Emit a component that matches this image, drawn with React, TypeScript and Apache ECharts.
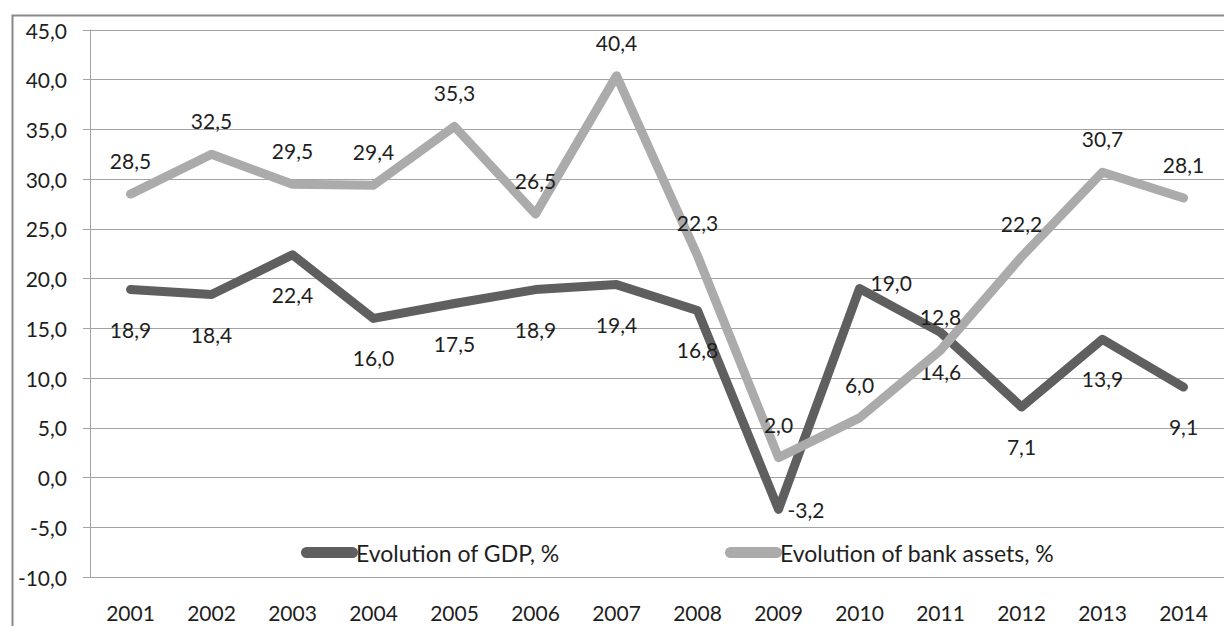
import React, { useEffect, useRef } from "react";
import * as echarts from "echarts";

const years = ["2001", "2002", "2003", "2004", "2005", "2006", "2007", "2008", "2009", "2010", "2011", "2012", "2013", "2014"];
const gdpValues = [18.9, 18.4, 22.4, 16.0, 17.5, 18.9, 19.4, 16.8, -3.2, 19.0, 14.6, 7.1, 13.9, 9.1];
const bankValues = [28.5, 32.5, 29.5, 29.4, 35.3, 26.5, 40.4, 22.3, 2.0, 6.0, 12.8, 22.2, 30.7, 28.1];
const gdpName = "Evolution of GDP, %";
const bankName = "Evolution of bank assets, %";

const FONT = "Lato, 'Open Sans', sans-serif";
const TEXT_COLOR = "#1e1e1e";
const GDP_COLOR = "#5f5f5f";
const BANK_COLOR = "#ababab";
const GRID_COLOR = "#a3a3a3";
const NUM_SIZE = 21;

const fmt = (v: number) => v.toFixed(1).replace(".", ",");

const capsule = "path://M5.5,0 H51.5 A5.5,5.5 0 0 1 51.5,11 H5.5 A5.5,5.5 0 0 1 5.5,0 Z";

export default function App() {
  const ref = useRef<HTMLDivElement>(null);
  useEffect(() => {
    if (!ref.current) return;
    const chart = echarts.init(ref.current, undefined, { renderer: "svg" });
    const labelBase = {
      show: true,
      fontFamily: FONT,
      fontSize: NUM_SIZE,
      color: TEXT_COLOR,
      formatter: (p: any) => fmt(p.value),
    };
    const gdpData = gdpValues.map((v, i) => {
      if (i === 8) return { value: v, label: { position: "right", distance: 8 } };
      if (i === 9) return { value: v, label: { position: "right", distance: 10, offset: [0, -6] } };
      return v;
    });
    const legendCommon = {
      top: 536,
      icon: capsule,
      itemWidth: 57,
      itemHeight: 11,
      textStyle: { fontFamily: FONT, fontSize: 23, color: TEXT_COLOR, padding: [0, 0, 0, -7] },
      selectedMode: false,
    };
    chart.setOption({
      animation: false,
      backgroundColor: "#ffffff",
      grid: { left: 90, top: 30, width: 1147, height: 547, containLabel: false },
      graphic: [
        {
          type: "rect",
          left: 10,
          top: 13,
          z: -10,
          shape: { width: 1400, height: 800 },
          style: { fill: "none", stroke: "#8a8a8a", lineWidth: 2 },
        },
      ],
      legend: [
        { ...legendCommon, data: [gdpName], left: 296 },
        { ...legendCommon, data: [bankName], left: 720 },
      ],
      xAxis: {
        type: "category",
        data: years,
        boundaryGap: true,
        axisLine: { show: true, lineStyle: { color: GRID_COLOR, width: 1 } },
        axisTick: { show: false },
        axisLabel: { fontFamily: FONT, fontSize: NUM_SIZE, color: TEXT_COLOR, margin: 25 },
      },
      yAxis: {
        type: "value",
        min: -10,
        max: 45,
        interval: 5,
        axisLine: { show: true, lineStyle: { color: GRID_COLOR, width: 1 } },
        axisTick: { show: true, length: 7, lineStyle: { color: GRID_COLOR } },
        splitLine: { show: true, lineStyle: { color: GRID_COLOR, width: 1 } },
        axisLabel: {
          fontFamily: FONT,
          fontSize: NUM_SIZE,
          color: TEXT_COLOR,
          margin: 23,
          formatter: (v: number) => fmt(v),
        },
      },
      series: [
        {
          name: gdpName,
          type: "line",
          data: gdpData,
          symbol: "circle",
          symbolSize: 2,
          itemStyle: { color: GDP_COLOR },
          lineStyle: { color: GDP_COLOR, width: 9, cap: "round", join: "round" },
          label: { ...labelBase, position: "bottom", distance: 28 },
          z: 2,
        },
        {
          name: bankName,
          type: "line",
          data: bankValues,
          symbol: "circle",
          symbolSize: 2,
          itemStyle: { color: BANK_COLOR },
          lineStyle: { color: BANK_COLOR, width: 9, cap: "round", join: "round" },
          label: { ...labelBase, position: "top", distance: 22 },
          z: 3,
        },
      ],
    });
    return () => chart.dispose();
  }, []);
  return (
    <div
      ref={ref}
      style={{ position: "absolute", left: 0, top: 0, width: 1224, height: 626 }}
    />
  );
}
